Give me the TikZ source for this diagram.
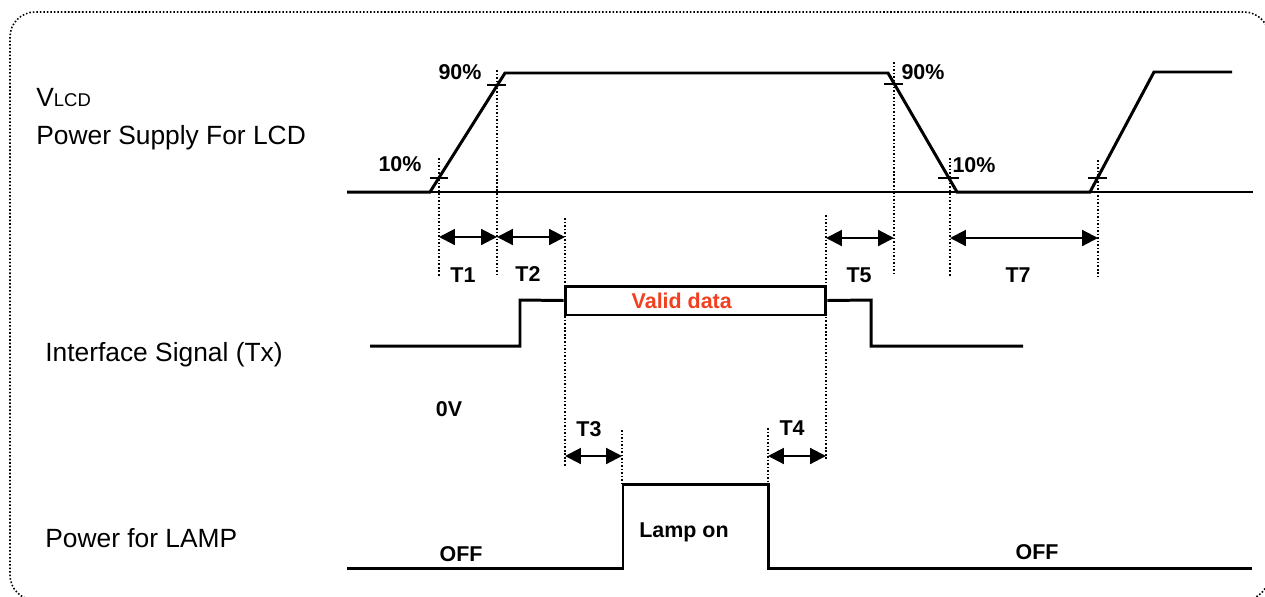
\documentclass[tikz,border=0pt]{standalone}
\usepackage{fontspec}
\setmainfont{Liberation Sans}
\usetikzlibrary{arrows.meta, positioning}
\definecolor{validred}{RGB}{240,64,32}

\begin{document}
\begin{tikzpicture}[
  x=0.02cm, y=-0.02cm,
  wave/.style={line width=1.7pt, line join=miter},
  base/.style={line width=0.9pt},
  guide/.style={line width=0.9pt, dash pattern=on 0.9pt off 1.1pt},
  dim/.style={<->, line width=1.2pt, shorten >=0pt, shorten <=0pt},
  tick/.style={line width=0.9pt},
  rowname/.style={font=\fontsize{15}{18}\selectfont, anchor=west, inner sep=0pt},
  tag/.style={font=\fontsize{12.2}{14}\selectfont\bfseries, inner sep=0pt},
  >={Triangle[length=9pt, width=9pt]}
]
  \useasboundingbox (0,0) rectangle (1265,596);
  \begin{scope}
    \clip (0,0) rectangle (1265,596);
    \draw[guide, rounded corners=0.5cm] (10,12) rectangle (1269,600);
  \end{scope}

  % Row names
  \node[rowname] (vlcd)  at (36,98)  {V{\fontsize{10.5}{12}\selectfont LCD}};
  \node[rowname] (psu)   at (36,138) {Power Supply For LCD};
  \node[rowname] (iface) at (45,355) {Interface Signal (Tx)};
  \node[rowname] (lamp)  at (45,538) {Power for LAMP};

  % VLCD waveform
  \coordinate (v0) at (347,192);
  \coordinate (v1) at (430,192);
  \coordinate (v2) at (505,73);
  \coordinate (v3) at (888,73);
  \coordinate (v4) at (957,192);
  \coordinate (v5) at (1090,192);
  \coordinate (v6) at (1154,72);
  \coordinate (v7) at (1232,72);
  \coordinate (vend) at (1253,192);
  \draw[base] (v0) -- (vend);
  \draw[wave] (v0) -- (v1) -- (v2) -- (v3) -- (v4) -- (v5) -- (v6) -- (v7);

  % 10% / 90% marks
  \draw[tick] (430,178) -- (448,178);
  \draw[tick] (487,85) -- (506,85);
  \draw[tick] (884,84) -- (903,84);
  \draw[tick] (938,178) -- (959,178);
  \draw[tick] (1088,178) -- (1107,178);
  \node[tag] (p10a) at (400,164) {10\%};
  \node[tag] (p90a) at (460,72)  {90\%};
  \node[tag] (p90b) at (923,72)  {90\%};
  \node[tag] (p10b) at (974,165) {10\%};

  % Guide lines
  \coordinate (g1t) at (439,158);  \coordinate (g1b) at (439,276);
  \coordinate (g2t) at (497,70);   \coordinate (g2b) at (497,276);
  \coordinate (g3t) at (565,218);  \coordinate (g3b) at (565,466);
  \coordinate (g4t) at (826,215);  \coordinate (g4b) at (826,460);
  \coordinate (g5t) at (894,62);   \coordinate (g5b) at (894,276);
  \coordinate (g6t) at (950,158);  \coordinate (g6b) at (950,277);
  \coordinate (g7t) at (1098,160); \coordinate (g7b) at (1098,277);
  \coordinate (g8t) at (622,430);  \coordinate (g8b) at (622,484);
  \coordinate (g9t) at (768,428);  \coordinate (g9b) at (768,484);
  \foreach \g in {g1,g2,g3,g4,g5,g6,g7,g8,g9}
    \draw[guide] (\g t) -- (\g b);

  % Timing arrows
  \draw[dim] (439,237) -- (497,237);
  \draw[dim] (497,237) -- (565,237);
  \draw[dim] (826,238) -- (894,238);
  \draw[dim] (950,238) -- (1098,238);
  \draw[dim] (565,456) -- (622,456);
  \draw[dim] (768,456) -- (826,456);
  \node[tag] (t1) at (463,275) {T1};
  \node[tag] (t2) at (528,274) {T2};
  \node[tag] (t5) at (859,275) {T5};
  \node[tag] (t7) at (1018,275) {T7};
  \node[tag] (t3) at (589,429) {T3};
  \node[tag] (t4) at (792,428) {T4};

  % Interface signal
  \node[draw, wave, minimum width=5.22cm, minimum height=0.58cm, inner sep=0pt,
        text=validred, font=\fontsize{12.2}{14}\selectfont\bfseries]
        (valid) at (695.5,300.5) {\hspace*{-0.55cm}Valid data};
  \coordinate (i0) at (370,346);
  \coordinate (i1) at (520,346);
  \coordinate (i2) at (520,300);
  \coordinate (i5) at (871,300);
  \coordinate (i6) at (871,346);
  \coordinate (i7) at (1023,346);
  \draw[wave] (i0) -- (i1) -- (i2) -- (valid.west);
  \draw[wave] (valid.east) -- (i5) -- (i6) -- (i7);
  \node[tag] (zero) at (449,409) {0V};

  % Lamp power
  \coordinate (l0) at (347,568);
  \coordinate (l1) at (623,568);
  \coordinate (l2) at (623,484);
  \coordinate (l3) at (768,484);
  \coordinate (l4) at (768,568);
  \coordinate (l5) at (1252,568);
  \draw[wave] (l0) -- (l1) -- (l2) -- (l3) -- (l4) -- (l5);
  \node[tag] (lampon) at (684,532) {Lamp on};
  \node[tag] (offa) at (461,554) {OFF};
  \node[tag] (offb) at (1037,552) {OFF};

\end{tikzpicture}
\end{document}
